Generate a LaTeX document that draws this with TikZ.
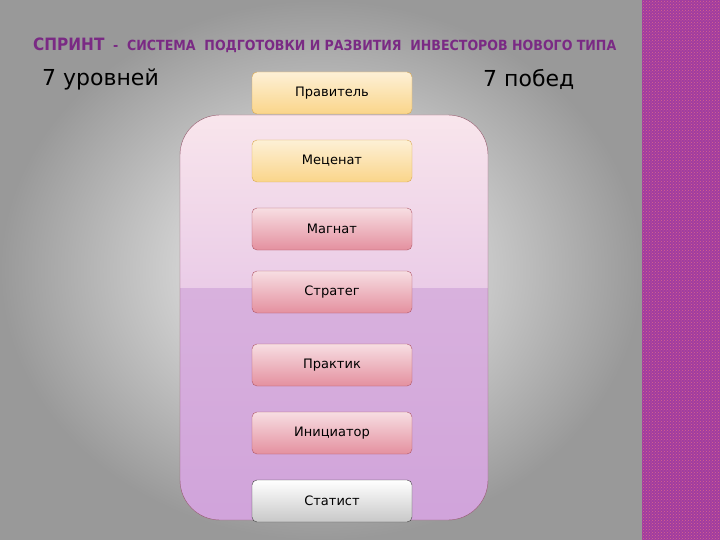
\documentclass[tikz,border=0pt]{standalone}
\usepackage{fontspec}
\setmainfont{DejaVu Sans}
\newfontfamily\condfont{DejaVu Sans Condensed}
\usetikzlibrary{patterns}
\definecolor{titlec}{HTML}{7A2A84}
\definecolor{goldf}{HTML}{FAD58A}
\definecolor{goldd}{HTML}{D9A850}
\definecolor{pinkf}{HTML}{E4909F}
\definecolor{pinkd}{HTML}{B05868}
\definecolor{grayf}{HTML}{C8C8C8}
\definecolor{lowc}{RGB}{205,160,215}
\definecolor{botc}{RGB}{215,170,225}
\definecolor{stripc}{RGB}{160,60,160}
\tikzset{
 lvl/.style={draw, rounded corners=5pt, minimum width=160pt, minimum height=42pt, font=\fontsize{13}{15}\selectfont, text=black},
 gold/.style={lvl, draw=goldd, top color=goldf!35!white, bottom color=goldf},
 pink/.style={lvl, draw=pinkd, top color=pinkf!30!white, bottom color=pinkf},
 grayb/.style={lvl, draw=black!75, top color=white, bottom color=grayf}
}
\begin{document}
\begin{tikzpicture}[x=1pt,y=-1pt]
\useasboundingbox (0,0) rectangle (720,540);
\shade[inner color=white!97!gray, outer color=gray!80] (0,0) rectangle (642,540);
\fill[stripc] (642,0) rectangle (720,540);
\fill[pattern=crosshatch dots, pattern color=white!40!purple] (642,0) rectangle (720,540);
\node[anchor=west, text=titlec, font=\condfont\bfseries\fontsize{14}{16}\selectfont, inner sep=0pt] (title) at (33,45) {{\fontsize{17}{19}\selectfont СПРИНТ}\ \ -\ \ СИСТЕМА\ \ ПОДГОТОВКИ И РАЗВИТИЯ\ \ ИНВЕСТОРОВ НОВОГО ТИПА};
\node[anchor=west, font=\fontsize{22}{26}\selectfont, inner sep=0pt] (lev) at (42,79) {7 уровней};
\node[anchor=west, font=\fontsize{22}{26}\selectfont, inner sep=0pt] (win) at (483,79) {7 побед};
\shade[rounded corners=40pt, top color=white!90!purple, bottom color=botc] (180,115) rectangle (488,520);
\begin{scope}
\clip[rounded corners=40pt] (180,115) rectangle (488,520);
\fill[lowc, opacity=0.6] (180,288) rectangle (488,520);
\end{scope}
\draw[draw=gray!70!purple, rounded corners=40pt] (180,115) rectangle (488,520);
\node[gold] (n1) at (332,93) {Правитель};
\node[gold] (n2) at (332,161) {Меценат};
\node[pink] (n3) at (332,229) {Магнат};
\node[pink] (n4) at (332,292) {Стратег};
\node[pink] (n5) at (332,365) {Практик};
\node[pink] (n6) at (332,433) {Инициатор};
\node[grayb] (n7) at (332,501) {Статист};
\end{tikzpicture}
\end{document}
